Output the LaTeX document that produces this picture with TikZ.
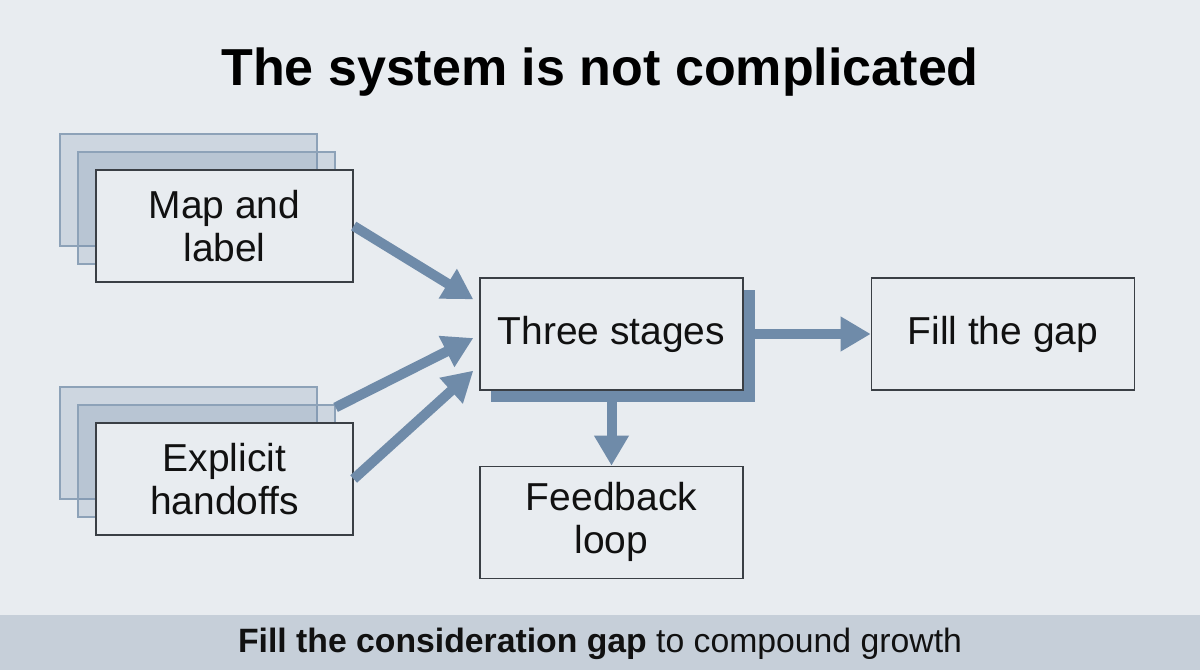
\documentclass[tikz,border=0pt]{standalone}
\usepackage{fontspec}
\setmainfont{Liberation Sans}
\usepackage{xcolor}
\usetikzlibrary{arrows.meta,positioning}
\definecolor{pagebg}{HTML}{E8ECF0}
\definecolor{bandbg}{HTML}{C6CFD9}
\definecolor{flowblue}{HTML}{6F8BA9}
\definecolor{stackedge}{HTML}{8DA2B8}
\definecolor{boxedge}{HTML}{3A3F45}
\definecolor{inkblack}{HTML}{111111}

\begin{document}
\begin{tikzpicture}[x=0.025cm, y=-0.025cm,
  box/.style={draw=boxedge, line width=0.9pt, fill=pagebg, minimum width=6.425cm, minimum height=2.8cm, align=center, inner sep=0pt, text=inkblack, font=\fontsize{27.7}{30.5}\selectfont},
  widebox/.style={box, minimum width=6.575cm},
  stack/.style={draw=stackedge, line width=0.8pt, fill=flowblue, fill opacity=0.22, minimum width=6.425cm, minimum height=2.8cm},
  arrow/.style={-{Triangle[length=0.75cm, width=0.82cm]}, line width=0.25cm, draw=flowblue}
]
\fill[pagebg] (0,0) rectangle (1200,670);
\useasboundingbox (0,0) rectangle (1200,670);
\fill[bandbg] (0,615) rectangle (1200,670);

\node[text=black, font=\fontsize{37}{40}\selectfont\bfseries] (title) at (600,72) {The system is not complicated};

\foreach \n/\y in {map/226, hand/479} {
  \node[stack] (\n-back) at (188.5,\y-36) {};
  \node[stack] (\n-mid) at (206.5,\y-18) {};
}
\node[box] (map) at (224.5,226) {Map and\\label};
\node[box] (hand) at (224.5,479) {Explicit\\handoffs};

\node[minimum width=6.6cm, minimum height=2.8cm, fill=flowblue] (threeshade) at (623,346) {};
\node[widebox] (three) at (611.5,334) {Three stages};
\node[widebox, right=3.175cm of three] (gap) {Fill the gap};
\node[widebox, below=1.875cm of three] (feed) {Feedback\\loop};

\draw[arrow] (map.east) -- ([shift={(-6,22)}]three.north west);
\draw[arrow] ([shift={(0,3)}]hand-mid.north east) -- ([shift={(-6,4)}]three.west);
\draw[arrow] (hand.east) -- ([shift={(-6,-20)}]three.south west);
\draw[arrow] (threeshade.east |- three.east) -- (gap.west);
\draw[arrow] (threeshade.south -| three) -- (feed.north);

\node[text=inkblack, font=\fontsize{24}{28}\selectfont] (tagline) at (600,644) {\textbf{Fill the consideration gap} to compound growth};
\end{tikzpicture}
\end{document}
